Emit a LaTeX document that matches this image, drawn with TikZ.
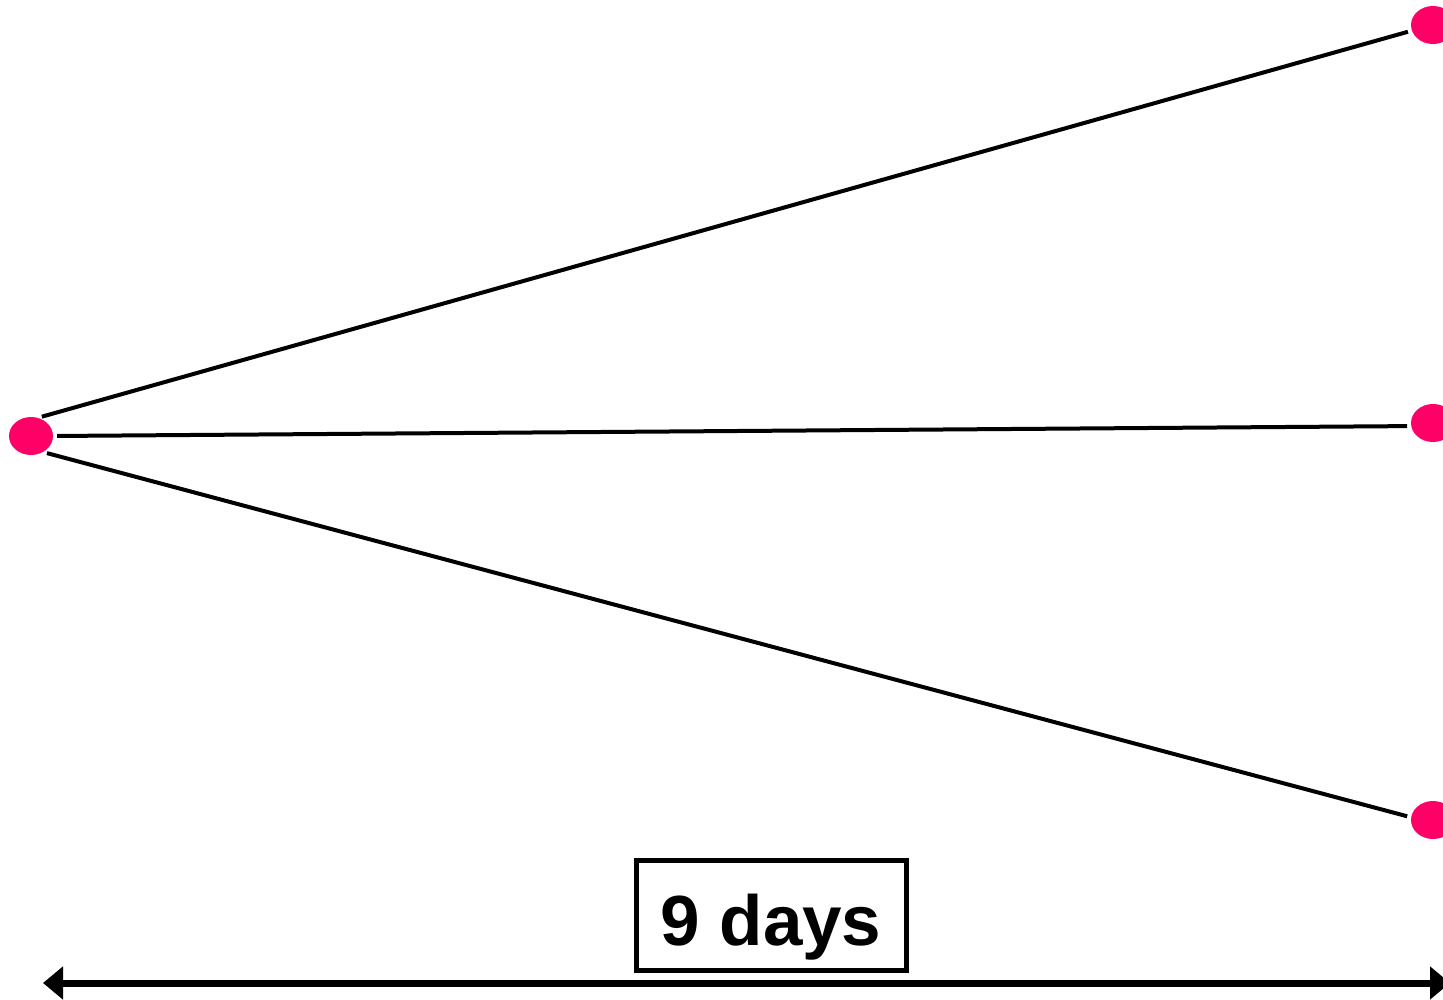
\documentclass[tikz,border=0pt]{standalone}
\usepackage{fontspec}
\setmainfont{Liberation Sans}
\usetikzlibrary{shapes.geometric,arrows.meta}
\definecolor{dotpink}{RGB}{255,0,102}
\begin{document}
\begin{tikzpicture}[x=1pt,y=-1pt,
  dot/.style={ellipse,fill=dotpink,minimum width=44pt,minimum height=38pt,inner sep=0pt},
  link/.style={line width=4pt,shorten <=4pt,shorten >=4pt},
  labelbox/.style={draw,line width=5pt,minimum width=270pt,minimum height=110pt,font=\bfseries\fontsize{71}{75}\selectfont,inner sep=0pt,text height=70pt,text depth=10pt}]
\clip (0,0) rectangle (1443,1000);
\useasboundingbox (0,0) rectangle (1443,1000);
\node[dot] (s) at (31,436) {};
\node[dot] (t1) at (1433,25) {};
\node[dot] (t2) at (1433,423) {};
\node[dot] (t3) at (1433,820) {};
\draw[link] (s.69) -- (t1.195);
\draw[link] (s.east) -- (t2.188);
\draw[link] (s.-53) -- (t3.173);
\node[labelbox] (lbl) at (771,915) {9 days};
\coordinate (al) at (43,983);
\coordinate (ar) at (1450,983);
\draw[line width=7pt,{Triangle[width=32pt,length=20pt]}-{Triangle[width=32pt,length=20pt]}] (al) -- (ar);
\end{tikzpicture}
\end{document}
